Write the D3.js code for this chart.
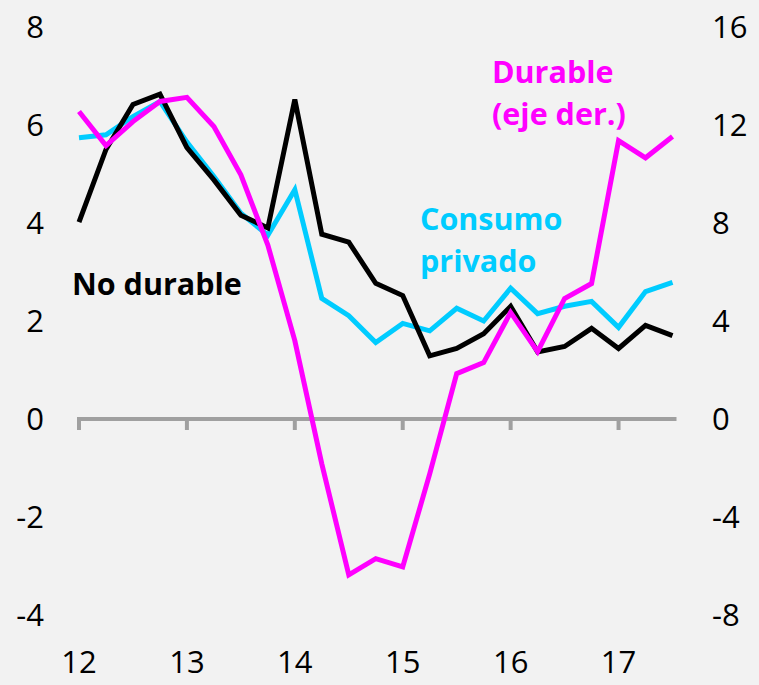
<!DOCTYPE html>
<html>
<head>
<meta charset="utf-8">
<script src="https://cdn.jsdelivr.net/npm/d3@7/dist/d3.min.js"></script>
<style>
  html, body { margin: 0; padding: 0; background: #f2f2f2; }
  svg { display: block; }
</style>
</head>
<body>
<div id="chart"></div>
<script>
// quarters, 2012 Q1 .. 2017 Q3
const quarters = [12, 12.25, 12.5, 12.75, 13, 13.25, 13.5, 13.75, 14, 14.25, 14.5, 14.75,
                  15, 15.25, 15.5, 15.75, 16, 16.25, 16.5, 16.75, 17, 17.25, 17.5];

const noDurable = [4.02, 5.5, 6.42, 6.63, 5.54, 4.88, 4.16, 3.9, 6.52, 3.77, 3.61, 2.77,
                   2.52, 1.29, 1.44, 1.74, 2.3, 1.37, 1.48, 1.85, 1.44, 1.91, 1.70];

const consumo = [5.74, 5.8, 6.17, 6.48, 5.65, 4.95, 4.2, 3.75, 4.68, 2.46, 2.11, 1.56,
                 1.95, 1.8, 2.26, 2.0, 2.67, 2.15, 2.3, 2.4, 1.87, 2.6, 2.79];

// eje derecho
const durable = [12.55, 11.16, 12.14, 12.96, 13.13, 11.94, 9.97, 7.1, 3.2, -1.83, -6.36, -5.7,
                 -6.04, -2.24, 1.85, 2.3, 4.35, 2.75, 4.92, 5.53, 11.36, 10.66, 11.53];

const leftTicks = [8, 6, 4, 2, 0, -2, -4];
const rightTicks = [16, 12, 8, 4, 0, -4, -8];
const yearTicks = [12, 13, 14, 15, 16, 17];

const width = 759, height = 685;

const svg = d3.select("#chart").append("svg")
  .attr("width", width)
  .attr("height", height);

svg.append("rect").attr("width", width).attr("height", height).attr("fill", "#f2f2f2");

const x = d3.scaleLinear().domain([12, 17.5]).range([79, 672.5]);
const yL = d3.scaleLinear().domain([-4, 8]).range([615, 27]);
const yR = d3.scaleLinear().domain([-8, 16]).range([615, 27]);

const font = "Open Sans, Liberation Sans, sans-serif";

// tick labels
svg.append("g").selectAll("text")
  .data(leftTicks).join("text")
  .attr("x", 44).attr("y", d => yL(d))
  .attr("dy", "0.36em")
  .attr("text-anchor", "end")
  .style("font-family", font).style("font-size", "31px").attr("fill", "#000")
  .text(d => d);

svg.append("g").selectAll("text")
  .data(rightTicks).join("text")
  .attr("x", 712).attr("y", d => yR(d))
  .attr("dy", "0.36em")
  .attr("text-anchor", "start")
  .style("font-family", font).style("font-size", "31px").attr("fill", "#000")
  .text(d => d);

svg.append("g").selectAll("text")
  .data(yearTicks).join("text")
  .attr("x", d => x(d)).attr("y", 673)
  .attr("text-anchor", "middle")
  .style("font-family", font).style("font-size", "31px").attr("fill", "#000")
  .text(d => d);

// zero axis with ticks
const axisColor = "#a0a0a0";
svg.append("line")
  .attr("x1", x(12) - 2).attr("x2", x(17.5) + 4)
  .attr("y1", yL(0)).attr("y2", yL(0))
  .attr("stroke", axisColor).attr("stroke-width", 4);

svg.append("g").selectAll("line")
  .data(yearTicks).join("line")
  .attr("x1", d => x(d)).attr("x2", d => x(d))
  .attr("y1", yL(0)).attr("y2", yL(0) + 11)
  .attr("stroke", axisColor).attr("stroke-width", 4);

// series
const lineL = d3.line().x((d, i) => x(quarters[i])).y(d => yL(d));
const lineR = d3.line().x((d, i) => x(quarters[i])).y(d => yR(d));

svg.append("path").datum(consumo)
  .attr("d", lineL).attr("fill", "none")
  .attr("stroke", "#00ccff").attr("stroke-width", 5)
  .attr("stroke-linejoin", "miter");

svg.append("path").datum(noDurable)
  .attr("d", lineL).attr("fill", "none")
  .attr("stroke", "#000000").attr("stroke-width", 5)
  .attr("stroke-linejoin", "miter");

svg.append("path").datum(durable)
  .attr("d", lineR).attr("fill", "none")
  .attr("stroke", "#ff00ff").attr("stroke-width", 5)
  .attr("stroke-linejoin", "miter");

// labels
function label(lines, x0, y0, color) {
  const t = svg.append("text")
    .attr("x", x0).attr("y", y0)
    .style("font-family", font).style("font-size", "30.5px").style("font-weight", "bold")
    .attr("fill", color);
  lines.forEach((s, i) => {
    t.append("tspan").attr("x", x0).attr("dy", i === 0 ? 0 : 42).text(s);
  });
}

label(["No durable"], 72, 295, "#000000");
label(["Consumo", "privado"], 420, 230, "#00ccff");
label(["Durable", "(eje der.)"], 492, 83, "#ff00ff");
</script>
</body>
</html>
